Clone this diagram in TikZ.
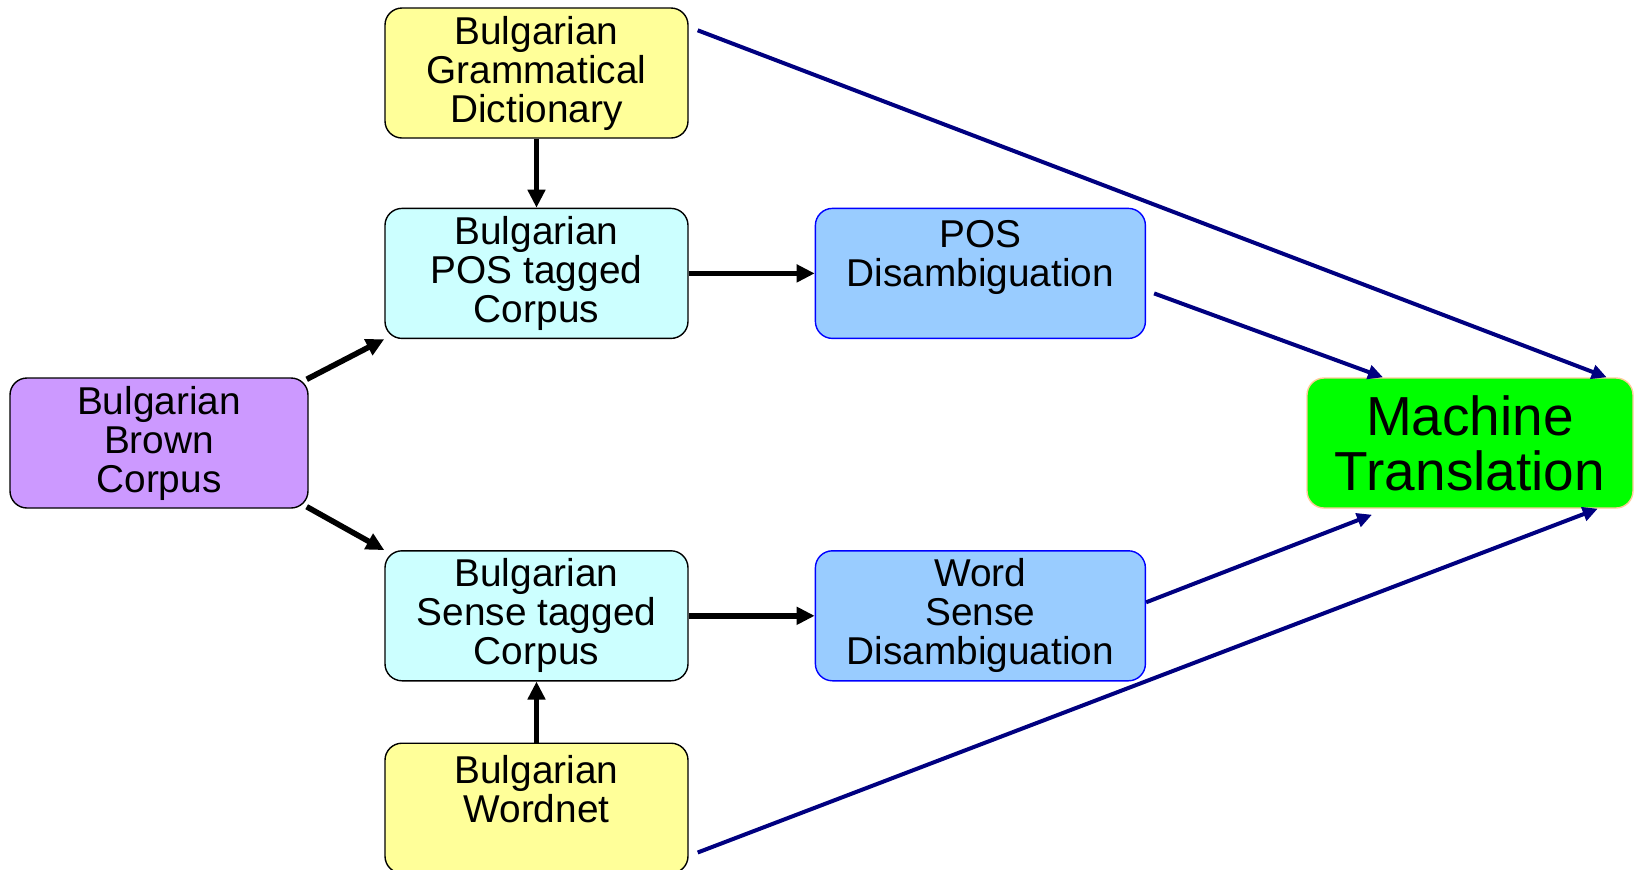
\documentclass[tikz,border=0pt]{standalone}
\usepackage{fontspec}
\setmainfont{Liberation Sans}
\usepackage{xcolor}
\usetikzlibrary{positioning, arrows.meta}
\definecolor{dictyellow}{HTML}{FFFF99}
\definecolor{corpuscyan}{HTML}{CCFFFF}
\definecolor{disblue}{HTML}{99CCFF}
\definecolor{brownpurple}{HTML}{CC99FF}
\definecolor{mtgreen}{HTML}{00FF00}
\definecolor{mtborder}{HTML}{FFCC99}
\definecolor{arrownavy}{HTML}{000080}
\tikzset{
    >={Triangle[length=9pt, width=8.5pt]},
    resource/.style={draw, rounded corners=8.5pt, line width=0.7pt, align=center, inner sep=0pt,
        minimum width=151.5pt, minimum height=65pt, font=\fontsize{19.4}{19.5}\selectfont},
    dict/.style={resource, fill=dictyellow},
    corpus/.style={resource, fill=corpuscyan},
    disamb/.style={resource, fill=disblue, draw=blue, minimum width=165pt},
    browncorpus/.style={resource, fill=brownpurple, minimum width=149pt},
    mt/.style={resource, fill=mtgreen, draw=mtborder, minimum width=163pt,
        font=\fontsize{27.5}{27.5}\selectfont},
    feed/.style={->, line width=2.8pt},
    tomt/.style={-{Triangle[length=7.5pt, width=7pt]}, line width=2pt, draw=arrownavy},
}

\begin{document}
\begin{tikzpicture}
    \useasboundingbox (0,0) rectangle (817.5pt,-434.5pt);

    \node[dict]        (gram)     at (268.25pt,-36.5pt)   {Bulgarian\\Grammatical\\Dictionary};
    \node[corpus]      (postag)   [below=34.5pt of gram]   {Bulgarian\\POS tagged\\Corpus};
    \node[corpus]      (sensetag) [below=105.5pt of postag]  {Bulgarian\\Sense tagged\\Corpus};
    \node[dict]        (wordnet)  [below=30.5pt of sensetag] {Bulgarian\\Wordnet\\~};
    \node[disamb]      (posdis)   [right=63pt of postag]   {POS\\Disambiguation\\~};
    \node[disamb]      (wsd)      [right=63pt of sensetag] {Word\\Sense\\Disambiguation};
    \node[browncorpus] (brown)    at (79.5pt,-221.5pt)     {Bulgarian\\Brown\\Corpus};
    \node[mt]          (mt)       at (735pt,-221.5pt)      {Machine\\Translation};

    % resources feeding the corpora and tools
    \draw[feed] (gram) -- (postag);
    \draw[feed] (wordnet) -- (sensetag);
    \draw[feed] (postag) -- (posdis);
    \draw[feed] (sensetag) -- (wsd);
    \draw[feed] ([shift={(-1pt,-1pt)}]brown.north east) -- (postag.south west);
    \draw[feed] ([shift={(-1pt,1pt)}]brown.south east) -- (sensetag.north west);

    % everything into MT
    \draw[tomt] ([shift={(4.5pt,-11.5pt)}]gram.north east) -- ([xshift=-13.5pt]mt.north east);
    \draw[tomt] ([shift={(4pt,-10pt)}]posdis.east) -- ([xshift=-43.5pt]mt.north);
    \draw[tomt] ([yshift=6.75pt]wsd.east) -- ([shift={(-49pt,-3pt)}]mt.south);
    \draw[tomt] ([shift={(4.5pt,-55pt)}]wordnet.north east) -- ([xshift=-18pt]mt.south east);
\end{tikzpicture}
\end{document}
